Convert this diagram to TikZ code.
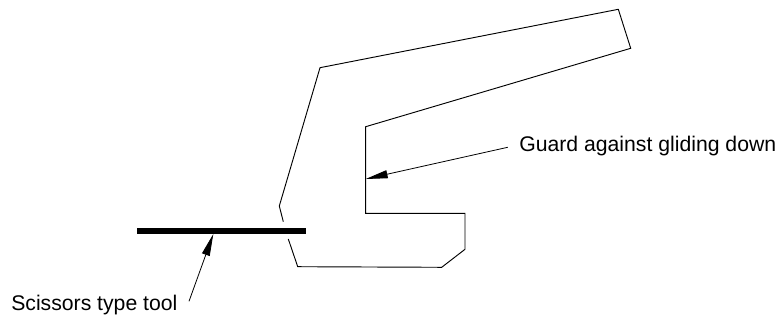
\documentclass[tikz,border=0pt]{standalone}
\usepackage{fontspec}
\setmainfont{Liberation Sans}
\usetikzlibrary{arrows.meta,positioning}
\tikzset{
	outline/.style={line width=0.7pt},
	tool/.style={line width=4.1pt},
	pointer/.style={line width=0.6pt,-{Triangle[length=16.5pt,width=6pt]}},
	caption/.style={inner sep=0pt,font=\fontsize{15.9pt}{18pt}\selectfont}
}
\begin{document}
\begin{tikzpicture}[x=0.75pt,y=-0.75pt]
	\useasboundingbox (0,0) rectangle (780,320);
	\draw[outline] (283.3,221.7) -- (279.3,206) -- (320,67.7) -- (618.3,9.3) -- (630.7,48.3)
	-- (365.7,126.7) -- (365.7,213.3) -- (465,213.3) -- (465,249.3) -- (441.7,267.3)
	-- (297.7,266.7) -- (288.3,239);
	\node[caption,anchor=base west] (guard) at (519,152) {Guard against gliding down};
	\node[caption,anchor=base west] (scissors) at (11,310) {Scissors type tool};
	\coordinate (guardtail) at (507.7,147.3);
	\coordinate (guardtip) at (365.7,179);
	\coordinate (tooltail) at (189,301.3);
	\coordinate (tooltip) at (213.3,234);
	\draw[tool] (137,231) -- (306,231);
	\draw[pointer] (guardtail) -- (guardtip);
	\draw[pointer] (tooltail) -- (tooltip);
\end{tikzpicture}
\end{document}
